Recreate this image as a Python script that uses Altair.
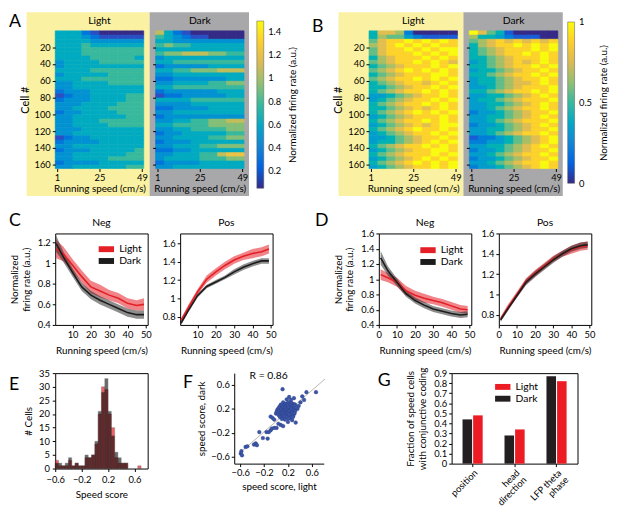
import altair as alt
import pandas as pd

FONT = "Lato"
RED = "#e41f26"
BLACK = "#1c1c1c"
PARULA = ["#352a87", "#0363e1", "#1485d4", "#06a7c6", "#38b99e",
          "#92bf73", "#d9ba56", "#fcce2e", "#f9fb0e"]
YELLOW_BG = "#faf2a2"
GRAY_BG = "#a8a8aa"

# ---------------- heat maps (codes 0-9 per 5-cell band x 5 cm/s bin) ----------
SPEED_EDGES = [0, 5, 10, 15, 20, 25, 30, 35, 40, 45, 50]
N_CELLS = 164

A_LIGHT = ["4442100000", "4443211111", "4444333333", "4445444444", "4445555555",
           "4445555555", "4444555554", "3444455555", "3444444444", "4444555555",
           "3444445555", "4445555555", "3344445555", "3344444444", "2333444444",
           "1233444455", "2333444455", "3334444555", "3344445555", "2334444555",
           "3344444455", "3344455555", "3344445555", "3334444444", "3344444444",
           "1233444444", "2333344444", "3344444444", "2333444445", "3344444455",
           "3344445555", "2333344444", "3344444455"]
A_DARK = ["7421000000", "5432110000", "4433333333", "5655444444", "4444444444",
          "5667776655", "3444444444", "4455555555", "2333334444", "4455666777",
          "3344444444", "2233333344", "3344445566", "4455555555", "2333333444",
          "1223333344", "4444555555", "3333444444", "2233334444", "3344444444",
          "2333333333", "3344556677", "4455556666", "3344555566", "2334444455",
          "3344445566", "2333444444", "3344455666", "2233444444", "3344455788",
          "3444455566", "2333344444", "3344444444"]
B_LIGHT = ["4776200000", "4655321111", "5788989898", "6789898988", "5788989899",
           "5788898989", "4678889898", "5678898987", "4567888989", "5678989898",
           "4567888998", "5678898989", "4567887898", "4456788989", "4567889898",
           "3345678898", "3456788989", "4567889898", "4456787898", "4567898989",
           "3456788898", "4567889898", "3456787899", "4567898898", "3456788989",
           "3345678898", "3445678989", "4567889898", "3456788998", "4567888989",
           "3456789898", "4567898989", "3456788989"]
B_DARK = ["9754100000", "6443211100", "5678787878", "4678898989", "4567888989",
          "4567889898", "4456788898", "3456787898", "4456788989", "3445678898",
          "4456788989", "3445678898", "3445677898", "3345678889", "4456788989",
          "3344567898", "3445678889", "3344567898", "3345678898", "2334567889",
          "3344567898", "3345678889", "2334567898", "3344567889", "3345678898",
          "1223456789", "2233456789", "3344567898", "2334567889", "3345678898",
          "2334567889", "3345678898", "2334567898"]

# ---------------- speed tuning curves ----------------
SPEED_X = [1, 5, 10, 15, 20, 25, 30, 35, 40, 45, 49]
C_NEG_LIGHT = [1.14, 1.09, 0.98, 0.87, 0.77, 0.73, 0.69, 0.66, 0.61, 0.59, 0.60]
C_NEG_LIGHT_SEM = [0.09, 0.07, 0.06, 0.06, 0.06, 0.06, 0.05, 0.05, 0.05, 0.05, 0.06]
C_NEG_DARK = [1.19, 1.06, 0.91, 0.77, 0.69, 0.64, 0.60, 0.56, 0.52, 0.50, 0.50]
C_NEG_DARK_SEM = [0.08, 0.05, 0.04, 0.04, 0.04, 0.04, 0.04, 0.04, 0.04, 0.04, 0.04]
C_POS_LIGHT = [0.76, 0.90, 1.07, 1.21, 1.29, 1.36, 1.42, 1.46, 1.49, 1.51, 1.54]
C_POS_LIGHT_SEM = [0.02, 0.03, 0.03, 0.04, 0.04, 0.04, 0.04, 0.04, 0.05, 0.05, 0.05]
C_POS_DARK = [0.73, 0.87, 1.03, 1.13, 1.18, 1.23, 1.29, 1.34, 1.38, 1.41, 1.41]
C_POS_DARK_SEM = [0.02, 0.02, 0.02, 0.02, 0.02, 0.02, 0.03, 0.03, 0.03, 0.03, 0.03]
D_NEG_LIGHT = [1.06, 1.02, 0.96, 0.85, 0.79, 0.75, 0.72, 0.69, 0.65, 0.61, 0.60]
D_NEG_LIGHT_SEM = [0.07, 0.06, 0.06, 0.06, 0.06, 0.06, 0.05, 0.05, 0.05, 0.05, 0.05]
D_NEG_DARK = [1.28, 1.11, 0.96, 0.81, 0.72, 0.66, 0.61, 0.58, 0.55, 0.53, 0.54]
D_NEG_DARK_SEM = [0.09, 0.06, 0.05, 0.04, 0.04, 0.04, 0.04, 0.04, 0.04, 0.04, 0.04]
D_POS_LIGHT = [0.76, 0.87, 1.00, 1.13, 1.21, 1.28, 1.35, 1.40, 1.44, 1.47, 1.48]
D_POS_LIGHT_SEM = [0.02, 0.03, 0.03, 0.03, 0.03, 0.03, 0.03, 0.03, 0.04, 0.04, 0.04]
D_POS_DARK = [0.75, 0.86, 0.99, 1.12, 1.20, 1.27, 1.34, 1.40, 1.45, 1.48, 1.49]
D_POS_DARK_SEM = [0.02, 0.02, 0.02, 0.03, 0.03, 0.03, 0.03, 0.03, 0.03, 0.03, 0.03]

# ---------------- histogram E ----------------
E_BINS = [-0.6, -0.55, -0.5, -0.45, -0.4, -0.35, -0.3, -0.25, -0.2, -0.15,
          -0.1, -0.05, 0.0, 0.05, 0.1, 0.15, 0.2, 0.25, 0.3, 0.35,
          0.4, 0.45, 0.5, 0.55, 0.6, 0.65, 0.7, 0.75]
E_LIGHT = [3, 1, 1, 1, 3, 1, 2, 1, 1, 4, 4, 5, 9, 20, 30, 29, 20, 15, 4, 2, 2, 2, 0, 0, 0, 1, 0, 0]
E_DARK = [2, 2, 1, 2, 4, 1, 2, 1, 1, 5, 4, 5, 10, 21, 28, 33, 21, 12, 6, 4, 2, 2, 0, 0, 0, 0, 0, 0]

# ---------------- scatter F ----------------
F_LIGHT = [-0.59, -0.58, -0.57, -0.51, -0.48, -0.37, -0.34, -0.32, -0.28, -0.22,
           -0.14, -0.16, -0.12, -0.09, -0.07, -0.03, 0.01, -0.09, -0.06, -0.03,
           0.11, 0.33, 0.51, 0.44, 0.47, 0.67, 0.36, 0.38, 0.41, 0.18,
           0.25, 0.08, 0.12, 0.04, 0.20, 0.27, 0.30, 0.22, 0.05, 0.00,
           0.12, 0.17, 0.21, 0.26, 0.30,
           0.08, 0.14, 0.19, 0.23, 0.28, 0.32,
           0.06, 0.10, 0.13, 0.16, 0.20, 0.24, 0.27, 0.31,
           0.04, 0.08, 0.11, 0.15, 0.18, 0.21, 0.25, 0.29, 0.33,
           0.02, 0.06, 0.09, 0.12, 0.15, 0.17, 0.20, 0.23, 0.26, 0.30,
           0.01, 0.05, 0.08, 0.11, 0.14, 0.16, 0.19, 0.22, 0.25, 0.28, 0.32,
           0.03, 0.07, 0.10, 0.13, 0.16, 0.18, 0.21, 0.24, 0.27, 0.31,
           0.05, 0.09, 0.12, 0.15, 0.19, 0.22, 0.26, 0.29,
           0.07, 0.11, 0.14, 0.18, 0.23, 0.28,
           0.10, 0.15, 0.21]
F_DARK = [-0.55, -0.51, -0.58, -0.44, -0.43, -0.40, -0.38, -0.41, -0.19, -0.29,
          -0.30, -0.19, -0.19, -0.16, -0.13, -0.12, -0.12, 0.07, 0.05, 0.02,
          0.53, -0.03, 0.48, 0.41, 0.35, 0.48, 0.20, 0.25, 0.31, 0.36,
          0.35, -0.07, -0.09, -0.05, -0.02, 0.01, 0.38, 0.40, 0.20, 0.12,
          0.31, 0.29, 0.31, 0.30, 0.28,
          0.27, 0.26, 0.28, 0.27, 0.26, 0.27,
          0.24, 0.25, 0.23, 0.24, 0.25, 0.23, 0.24, 0.25,
          0.21, 0.20, 0.22, 0.21, 0.20, 0.22, 0.21, 0.20, 0.22,
          0.18, 0.17, 0.19, 0.18, 0.17, 0.19, 0.18, 0.17, 0.19, 0.18,
          0.15, 0.16, 0.14, 0.15, 0.16, 0.14, 0.15, 0.16, 0.14, 0.15, 0.16,
          0.12, 0.11, 0.13, 0.12, 0.11, 0.13, 0.12, 0.11, 0.13, 0.12,
          0.09, 0.08, 0.10, 0.09, 0.08, 0.10, 0.09, 0.08,
          0.06, 0.05, 0.07, 0.06, 0.05, 0.06,
          0.03, 0.02, 0.04]
F_FIT_X = [-0.62, 0.82]
F_FIT_Y = [-0.55, 0.70]

# ---------------- bars G ----------------
G_CATS = ["position", "head direction", "LFP theta phase"]
G_DARK = [0.44, 0.28, 0.87]
G_LIGHT = [0.48, 0.34, 0.82]

SWATCH = "M-1.3,-0.5H1.3V0.5H-1.3Z"


def text_at(txt, x, y, size=10.5, align="center", baseline="middle"):
    return alt.Chart(pd.DataFrame({"t": [txt]})).mark_text(
        align=align, baseline=baseline, fontSize=size, font=FONT, color="#000"
    ).encode(text="t:N", x=alt.value(x), y=alt.value(y))


def letter(ch, x, y):
    return text_at(ch, x, y, size=18, align="left", baseline="alphabetic")


def swatch_legend(x, y):
    return alt.Legend(orient="none", legendX=x, legendY=y, title=None, symbolType=SWATCH,
                      symbolSize=144, symbolOpacity=1, symbolStrokeWidth=0, labelFontSize=10.5,
                      rowPadding=0, padding=0, labelOffset=7)


HW, HH = 90, 140


def heat_panel(rows, decode, domain, title, bg, lext, rext, first, let=None):
    recs = []
    for i, row in enumerate(rows):
        c0 = 5 * i + 0.5
        c1 = min(5 * i + 5.5, N_CELLS + 0.5)
        for j, ch in enumerate(row):
            recs.append(dict(s0=SPEED_EDGES[j], s1=SPEED_EDGES[j + 1], c0=c0, c1=c1,
                             v=decode(int(ch))))
    df = pd.DataFrame(recs)
    cscale = alt.Scale(domain=domain, range=PARULA, clamp=True)
    box = alt.Chart(pd.DataFrame({"k": [0]})).mark_rect(color=bg).encode(
        x=alt.value(-lext), x2=alt.value(HW + rext), y=alt.value(-19), y2=alt.value(HH + 28))
    yaxis = alt.Axis(values=[20, 40, 60, 80, 100, 120, 140, 160], labels=first,
                     title="Cell #" if first else None, domain=False, tickSize=3,
                     labelPadding=2, titlePadding=4, titleFontSize=11, zindex=2)
    heat = alt.Chart(df).mark_rect(strokeWidth=0.6).encode(
        x=alt.X("s0:Q", scale=alt.Scale(domain=[0, 50], nice=False, zero=False),
                axis=alt.Axis(values=[1, 25, 49], title="Running speed (cm/s)", domain=False,
                              tickSize=3, labelPadding=1, titlePadding=2, zindex=2)),
        x2="s1:Q",
        y=alt.Y("c0:Q", scale=alt.Scale(domain=[0.5, N_CELLS + 0.5], reverse=True,
                                        nice=False, zero=False), axis=yaxis),
        y2="c1:Q",
        color=alt.Color("v:Q", scale=cscale, legend=None),
        stroke=alt.Stroke("v:Q", scale=cscale, legend=None),
    )
    layers = [box, heat, text_at(title, HW / 2, -10)]
    if let is not None:
        layers.append(letter(*let))
    return alt.layer(*layers).properties(width=HW, height=HH)


def colorbar(domain, values, rng):
    df = pd.DataFrame({"lo": [domain[0]], "hi": [domain[1]]})
    grad = alt.LinearGradient(
        gradient="linear", x1=0, y1=1, x2=0, y2=0,
        stops=[alt.GradientStop(color=c, offset=i / (len(PARULA) - 1)) for i, c in enumerate(PARULA)])
    return alt.Chart(df).mark_rect(color=grad, stroke="#555", strokeWidth=0.5).encode(
        x=alt.value(0), x2=alt.value(7),
        y=alt.Y("lo:Q", scale=alt.Scale(domain=domain, range=rng, nice=False, zero=False),
                axis=alt.Axis(orient="right", values=values, format="~g", ticks=False,
                              domain=False, labelPadding=4, title="Normalized firing rate (a.u.)",
                              titleAngle=270, titleBaseline="top", titlePadding=7)),
        y2="hi:Q",
    ).properties(width=7, height=HH)


CW, CH = 94, 93


def curve_panel(light, lsem, dark, dsem, xdom, xvals, ydom, yvals, title, ytitle=None,
                legend_xy=None, let=None):
    def mk(vals, sems, cond):
        return pd.DataFrame({"x": SPEED_X, "m": vals,
                             "lo": [v - s for v, s in zip(vals, sems)],
                             "hi": [v + s for v, s in zip(vals, sems)],
                             "cond": cond})
    dl, dd = mk(light, lsem, "Light"), mk(dark, dsem, "Dark")
    xenc = alt.X("x:Q", scale=alt.Scale(domain=xdom, nice=False, zero=False),
                 axis=alt.Axis(values=xvals, title="Running speed (cm/s)", domain=False,
                               tickSize=3, labelPadding=2, titlePadding=7,
                               labelFlush=False, labelOverlap=False))
    yscale = alt.Scale(domain=ydom, nice=False, zero=False)
    yax = alt.Axis(values=yvals, format="~g", domain=False, tickSize=3, labelPadding=2,
                   title=ytitle, titlePadding=6, labelFlush=False, labelOverlap=False)
    leg = swatch_legend(*legend_xy) if legend_xy is not None else None
    col = alt.Color("cond:N", scale=alt.Scale(domain=["Light", "Dark"], range=[RED, BLACK]),
                    legend=leg)
    al = alt.Chart(dl).mark_area(opacity=0.55).encode(
        x=xenc, y=alt.Y("lo:Q", scale=yscale, axis=yax), y2="hi:Q", color=col)
    ad = alt.Chart(dd).mark_area(opacity=0.5).encode(
        x=xenc, y=alt.Y("lo:Q", scale=yscale, axis=yax), y2="hi:Q", color=col)
    ll = alt.Chart(dl).mark_line(color=RED, strokeWidth=1.6).encode(
        x=xenc, y=alt.Y("m:Q", scale=yscale, axis=yax))
    ld = alt.Chart(dd).mark_line(color=BLACK, strokeWidth=1.6).encode(
        x=xenc, y=alt.Y("m:Q", scale=yscale, axis=yax))
    layers = [al, ad, ll, ld, text_at(title, CW / 2, -11)]
    if let is not None:
        layers.append(letter(*let))
    return alt.layer(*layers).properties(
        width=CW, height=CH, view=alt.ViewBackground(stroke="#000", strokeWidth=1))


def hc(*charts, spacing):
    return alt.hconcat(*charts, spacing=spacing).resolve_scale(color="independent",
                                                               stroke="independent")


def vc(*charts, spacing):
    return alt.vconcat(*charts, spacing=spacing).resolve_scale(color="independent",
                                                               stroke="independent")


dec_a = lambda d: 0.02 + 0.15 * d
dec_b = lambda d: d / 9.0

A_l = heat_panel(A_LIGHT, dec_a, [0.05, 1.49], "Light", YELLOW_BG, 29, 6, True, ("A", -47, -4))
A_d = heat_panel(A_DARK, dec_a, [0.05, 1.49], "Dark", GRAY_BG, 6, 5, False)
A_cb = colorbar([0.05, 1.49], [0.2, 0.4, 0.6, 0.8, 1, 1.2, 1.4], [160, -10])
B_l = heat_panel(B_LIGHT, dec_b, [0, 1], "Light", YELLOW_BG, 31, 6, True, ("B", -58, 1))
B_d = heat_panel(B_DARK, dec_b, [0, 1], "Dark", GRAY_BG, 6, 5, False)
B_cb = colorbar([0, 1], [0, 0.5, 1], [155, -9])

C_n = curve_panel(C_NEG_LIGHT, C_NEG_LIGHT_SEM, C_NEG_DARK, C_NEG_DARK_SEM, [0.5, 51],
                  [10, 20, 30, 40, 50], [0.4, 1.29], [0.4, 0.6, 0.8, 1, 1.2], "Neg",
                  ["Normalized", "firing rate (a.u.)"], (46, 10), ("C", -47, -8))
C_p = curve_panel(C_POS_LIGHT, C_POS_LIGHT_SEM, C_POS_DARK, C_POS_DARK_SEM, [0.5, 51],
                  [10, 20, 30, 40, 50], [0.71, 1.71], [0.8, 1, 1.2, 1.4, 1.6], "Pos")
D_n = curve_panel(D_NEG_LIGHT, D_NEG_LIGHT_SEM, D_NEG_DARK, D_NEG_DARK_SEM, [0, 51],
                  [0, 10, 20, 30, 40, 50], [0.4, 1.6], [0.4, 0.6, 0.8, 1, 1.2, 1.4, 1.6], "Neg",
                  ["Normalized", "firing rate (a.u.)"], (44, 11), ("D", -65, -8))
D_p = curve_panel(D_POS_LIGHT, D_POS_LIGHT_SEM, D_POS_DARK, D_POS_DARK_SEM, [0, 51],
                  [0, 10, 20, 30, 40, 50], [0.7, 1.6], [0.8, 1, 1.2, 1.4, 1.6], "Pos")

# ---- E histogram
hist = pd.DataFrame(
    [dict(b0=b, b1=round(b + 0.05, 3), n=n, cond="Light") for b, n in zip(E_BINS, E_LIGHT) if n > 0]
    + [dict(b0=b, b1=round(b + 0.05, 3), n=n, cond="Dark") for b, n in zip(E_BINS, E_DARK) if n > 0])
ex = alt.X("b0:Q", scale=alt.Scale(domain=[-0.6, 0.8], nice=False, zero=False),
           axis=alt.Axis(values=[-0.6, -0.2, 0.2, 0.6], format="~g", title="Speed score",
                         domain=False, tickSize=3, labelPadding=3, titlePadding=6,
                         labelFlush=False, labelOverlap=False))
ey = alt.Y("n:Q", scale=alt.Scale(domain=[0, 35], nice=False),
           axis=alt.Axis(values=[0, 5, 10, 15, 20, 25, 30, 35], title="# Cells", domain=False,
                         tickSize=3, labelPadding=3, titlePadding=5,
                         labelFlush=False, labelOverlap=False))
e_l = alt.Chart(hist).transform_filter("datum.cond == 'Light'").mark_rect(
    color=RED, opacity=0.7, stroke="#333", strokeWidth=0.4).encode(x=ex, x2="b1:Q", y=ey)
e_d = alt.Chart(hist).transform_filter("datum.cond == 'Dark'").mark_rect(
    color="#000", opacity=0.58, stroke="#333", strokeWidth=0.4).encode(x=ex, x2="b1:Q", y=ey)
E = alt.layer(e_l, e_d, letter("E", -47, 17)).properties(
    width=94, height=97, view=alt.ViewBackground(stroke="#000", strokeWidth=1))

# ---- F scatter
pts = pd.DataFrame({"l": F_LIGHT, "d": F_DARK})
fit = pd.DataFrame({"l": F_FIT_X, "d": F_FIT_Y})
fx = alt.X("l:Q", scale=alt.Scale(domain=[-0.7, 0.8], nice=False, zero=False),
           axis=alt.Axis(values=[-0.6, -0.2, 0.2, 0.6], format="~g", title="speed score, light",
                         tickSize=3, labelPadding=1, titlePadding=5,
                         labelFlush=False, labelOverlap=False))
fy = alt.Y("d:Q", scale=alt.Scale(domain=[-0.72, 0.8], nice=False, zero=False),
           axis=alt.Axis(values=[-0.6, -0.2, 0.2, 0.6], format="~g", title="speed score, dark",
                         tickSize=3, labelPadding=2, titlePadding=4,
                         labelFlush=False, labelOverlap=False))
f_line = alt.Chart(fit).mark_line(color="#bdb7ab", strokeWidth=1).encode(x=fx, y=fy)
f_pts = alt.Chart(pts).mark_point(filled=True, size=14, color="#3b56a6", opacity=1,
                                  stroke="#2b3f8c", strokeWidth=0.4).encode(x=fx, y=fy)
F = alt.layer(f_line, f_pts, text_at("R = 0.86", 35, 3), letter("F", -52, 15)).properties(
    width=91, height=92)

# ---- G bars
gdf = pd.DataFrame([dict(cat=c, cond="Dark", val=v) for c, v in zip(G_CATS, G_DARK)]
                   + [dict(cat=c, cond="Light", val=v) for c, v in zip(G_CATS, G_LIGHT)])
g_bars = alt.Chart(gdf).mark_bar().encode(
    x=alt.X("cat:N", sort=G_CATS, scale=alt.Scale(paddingInner=0.52, paddingOuter=0.26),
            axis=alt.Axis(title=None, labelAngle=315, labelAlign="right", labelBaseline="top",
                          domain=False, tickSize=3, labelPadding=1, labelFontSize=9.5,
                          labelLineHeight=10,
                          labelExpr="datum.value == 'head direction' ? ['head', 'direction'] : "
                                    "datum.value == 'LFP theta phase' ? ['LFP theta', 'phase'] : datum.value")),
    xOffset=alt.XOffset("cond:N", scale=alt.Scale(domain=["Dark", "Light"], paddingInner=0.1)),
    y=alt.Y("val:Q", scale=alt.Scale(domain=[0, 0.9], nice=False),
            axis=alt.Axis(values=[0, 0.1, 0.2, 0.3, 0.4, 0.5, 0.6, 0.7, 0.8, 0.9], format="~g",
                          title=["Fraction of speed cells", "with conjunctive coding"],
                          domain=False, tickSize=3, labelPadding=2, titlePadding=6,
                          labelFlush=False, labelOverlap=False)),
    color=alt.Color("cond:N", scale=alt.Scale(domain=["Light", "Dark"], range=["#ed1c24", "#231f20"]),
                    legend=swatch_legend(46, 8)),
)
G = alt.layer(g_bars, letter("G", -75, 13)).properties(
    width=128, height=92, view=alt.ViewBackground(stroke="#000", strokeWidth=1))

row1 = hc(hc(hc(A_l, A_d, spacing=0), A_cb, spacing=7),
          hc(hc(B_l, B_d, spacing=0), B_cb, spacing=4), spacing=14)
row2 = hc(hc(C_n, C_p, spacing=9), hc(D_n, D_p, spacing=4), spacing=37)
row3 = hc(hc(E, F, spacing=35), G, spacing=50)

chart = vc(vc(row1, row2, spacing=13), row3, spacing=10).properties(
    padding={"left": 0, "top": 0, "right": 0, "bottom": 0}
).configure(font=FONT).configure_axis(
    labelFont=FONT, titleFont=FONT, labelFontSize=9.5, titleFontSize=10,
    titleFontWeight="normal", labelColor="#000", titleColor="#000", tickColor="#000",
    domainColor="#000", grid=False
).configure_legend(labelFont=FONT, labelColor="#000"
).configure_view(stroke=None)

chart.save("out.html", embed_options={"renderer": "svg", "actions": False})
